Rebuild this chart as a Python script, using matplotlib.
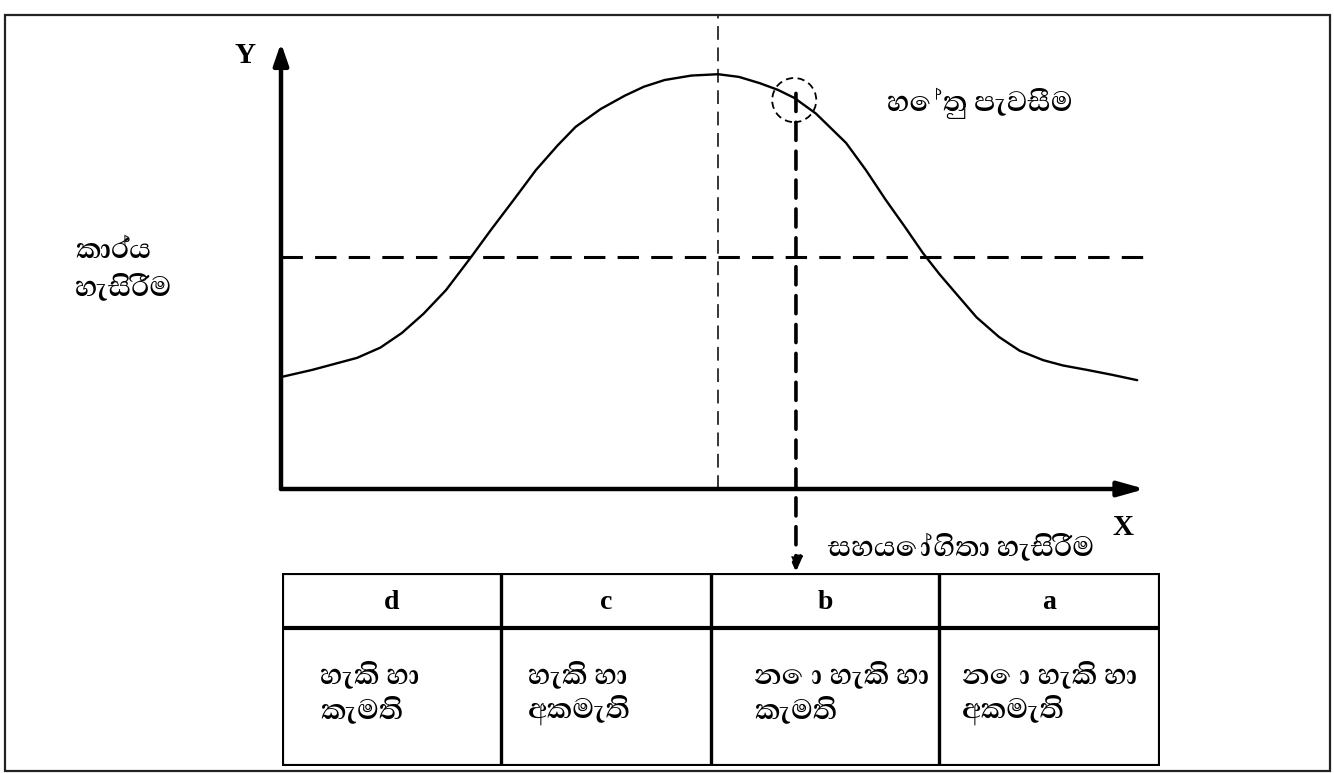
import numpy as np
import matplotlib
matplotlib.use('Agg')
import matplotlib.pyplot as plt
from matplotlib.patches import Ellipse, Rectangle

SINHALA = ['Abhaya Libre SemiBold', 'Abhaya Libre', 'FreeSerif', 'DejaVu Sans']
SIN_SIZE = 26

# curve (x: 0..10 along X axis, y: 0..10 along Y axis)
curve_x = [0.0, 0.36, 0.88, 1.15, 1.40, 1.65, 1.91, 2.20, 2.43, 2.70, 2.95, 3.20, 3.41,
           3.70, 3.98, 4.20, 4.44, 4.75, 5.06, 5.30, 5.54, 5.75, 5.94, 6.19, 6.54,
           6.77, 7.00, 7.22, 7.43, 7.62, 7.81, 8.05, 8.31, 8.55, 8.82, 9.05, 9.33, 9.62, 9.91]
curve_y = [2.51, 2.67, 2.94, 3.17, 3.50, 3.93, 4.46, 5.20, 5.81, 6.50, 7.15, 7.70, 8.12,
           8.52, 8.82, 9.02, 9.17, 9.27, 9.30, 9.24, 9.10, 8.95, 8.77, 8.42, 7.76,
           7.15, 6.48, 5.88, 5.29, 4.82, 4.39, 3.85, 3.41, 3.10, 2.89, 2.77, 2.67, 2.56, 2.44]

task_level = 5.20      # horizontal dashed line
peak_x = 5.06          # thin vertical dashed line
point_x = 5.94         # thick dashed arrow down to the table
point_y = 8.77

y_label = ['කාර්ය', 'හැසිරීම']
point_label = 'හේතු පැවසීම'
x_label = 'සහයෝගිතා හැසිරීම'

col_names = ['d', 'c', 'b', 'a']
col_text = [['හැකි හා', 'කැමති'],
            ['හැකි හා', 'අකමැති'],
            ['නො හැකි හා', 'කැමති'],
            ['නො හැකි හා', 'අකමැති']]
col_edges = [0.0, 0.2494, 0.4886, 0.7483, 1.0]
col_pad = [0.043, 0.031, 0.049, 0.026]

W, H = 1334, 773
fig = plt.figure(figsize=(W / 100, H / 100), dpi=100)
fig.patch.set_facecolor('white')

# outer frame
fig.patches.append(Rectangle((5 / W, 2 / H), 1325 / W, 756 / H, transform=fig.transFigure,
                             fill=False, lw=1.6, ec='#222222'))

ax = fig.add_axes([281 / W, 284 / H, 864 / W, 446 / H])
ax.set_xlim(0, 10)
ax.set_ylim(0, 10)
ax.axis('off')

# axes with arrow heads
ax.annotate('', xy=(0, 10), xytext=(0, 0), annotation_clip=False,
            arrowprops=dict(arrowstyle='-|>,head_length=1.3,head_width=0.45', lw=3.2, color='black',
                            shrinkA=0, shrinkB=0))
ax.annotate('', xy=(10, 0), xytext=(0, 0), annotation_clip=False,
            arrowprops=dict(arrowstyle='-|>,head_length=1.6,head_width=0.45', lw=3.2, color='black',
                            shrinkA=0, shrinkB=0))

ax.plot(curve_x, curve_y, color='black', lw=1.7, solid_capstyle='round', solid_joinstyle='round')

ax.plot([0, 10.03], [task_level, task_level], color='black', lw=2.2, dashes=(7, 4))
ax.plot([peak_x, peak_x], [0, 10.63], color='black', lw=1.1, dashes=(9, 5), clip_on=False)

ax.annotate('', xy=(point_x + 0.02, -1.86), xytext=(point_x + 0.02, point_y + 0.1),
            annotation_clip=False,
            arrowprops=dict(arrowstyle='-|>,head_length=0.8,head_width=0.35', lw=2.6,
                            color='black', linestyle=(0, (5, 3)), shrinkA=0, shrinkB=0))
ax.add_patch(Ellipse((point_x, point_y - 0.05), 0.51, 0.99, fill=False, ec='black',
                     lw=1.3, ls=(0, (4, 2.5)), clip_on=False))

ax.text(-0.42, 9.73, 'Y', fontsize=21, fontweight='bold', family='Liberation Serif',
        ha='center', va='center')
ax.text(9.75, -0.87, 'X', fontsize=21, fontweight='bold', family='Liberation Serif',
        ha='center', va='center')

ax.text(-2.38, 5.36, y_label[0], fontsize=SIN_SIZE, family=SINHALA, ha='left', va='center', clip_on=False)
ax.text(-2.38, 4.53, y_label[1], fontsize=SIN_SIZE, family=SINHALA, ha='left', va='center', clip_on=False)
ax.text(8.09, 8.65, point_label, fontsize=SIN_SIZE, family=SINHALA, ha='center', va='center')
ax.text(7.87, -1.32, x_label, fontsize=SIN_SIZE, family=SINHALA, ha='center', va='center')

# table a-d
tab = fig.add_axes([282 / W, 7 / H, 878 / W, 193 / H])
tab.set_xlim(0, 1)
tab.set_ylim(1, 0)
tab.axis('off')
tab.add_patch(Rectangle((0, 0), 1, 1, fill=False, lw=3, ec='black'))
tab.plot([0, 1], [0.285, 0.285], color='black', lw=3)
for e in col_edges[1:-1]:
    tab.plot([e, e], [0, 1], color='black', lw=2.4)

for i, name in enumerate(col_names):
    mid = (col_edges[i] + col_edges[i + 1]) / 2
    tab.text(mid, 0.155, name, fontsize=20, fontweight='bold', family='Liberation Serif',
             ha='center', va='center')
    tab.text(col_edges[i] + col_pad[i], 0.528, col_text[i][0], fontsize=SIN_SIZE, family=SINHALA,
             ha='left', va='center')
    tab.text(col_edges[i] + col_pad[i], 0.71, col_text[i][1], fontsize=SIN_SIZE, family=SINHALA,
             ha='left', va='center')

plt.savefig('out.png', dpi=100)
